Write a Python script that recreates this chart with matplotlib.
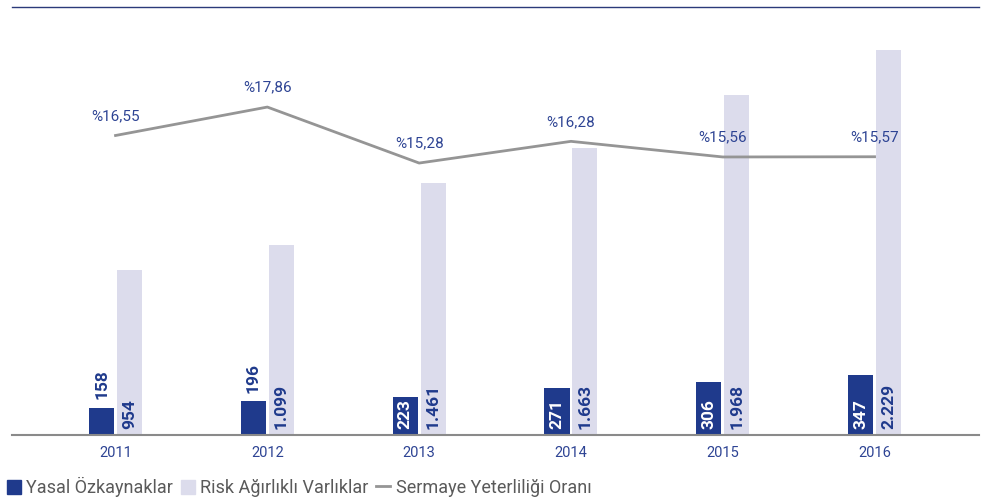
import matplotlib
matplotlib.use('Agg')
import matplotlib.pyplot as plt
from matplotlib.patches import Patch
from matplotlib.lines import Line2D
import numpy as np

plt.rcParams['font.family'] = ['Roboto', 'DejaVu Sans']

# data
years = ['2011', '2012', '2013', '2014', '2015', '2016']
ozkaynak = [158, 196, 223, 271, 306, 347]
risk_varlik = [954, 1099, 1461, 1663, 1968, 2229]
sermaye_orani = [16.55, 17.86, 15.28, 16.28, 15.56, 15.57]

DARK = '#1f3a8c'
LIGHT = '#dcdcec'
GREY_LINE = '#959595'
TXT_BLUE = '#2e4494'
TXT_GREY = '#5a5a5a'


def tr_num(v):
    # thousands with a dot, as in the original
    return '{:,}'.format(v).replace(',', '.')


def tr_pct(v):
    return '%' + '{:.2f}'.format(v).replace('.', ',')


fig = plt.figure(figsize=(9.89, 4.99), dpi=100)
ax = fig.add_axes([12 / 989, 1 - 435 / 499, 967 / 989, 428 / 499])

x = np.arange(len(years))
w = 0.165
off = 0.092

b1 = ax.bar(x - off, ozkaynak, width=w, color=DARK, zorder=2)
b2 = ax.bar(x + off, risk_varlik, width=w, color=LIGHT, zorder=2)

ax.set_xlim(-0.682, 5.688)
ax.set_ylim(0, 2481)

for xi, v in zip(x, ozkaynak):
    if v >= 200:
        ax.annotate(tr_num(v), (xi - off, 0), xytext=(0, 4), textcoords='offset points',
                    rotation=90, ha='center', va='bottom', color='white',
                    fontsize=12.5, fontweight='bold', zorder=4)
    else:
        ax.annotate(tr_num(v), (xi - off, v), xytext=(0, 6), textcoords='offset points',
                    rotation=90, ha='center', va='bottom', color=DARK,
                    fontsize=12.5, fontweight='bold', zorder=4)

for xi, v in zip(x, risk_varlik):
    ax.annotate(tr_num(v), (xi + off, 0), xytext=(0, 4.5), textcoords='offset points',
                rotation=90, ha='center', va='bottom', color=DARK,
                fontsize=12.5, fontweight='bold', zorder=4)

ax.set_xticks(x)
ax.set_xticklabels(years, fontsize=10.5, color=TXT_BLUE)
ax.tick_params(axis='x', length=0, pad=8)
ax.set_yticks([])

for s in ['left', 'right']:
    ax.spines[s].set_visible(False)
ax.spines['top'].set_color('#2b3a7a')
ax.spines['top'].set_linewidth(1.0)
ax.spines['bottom'].set_color('#8a8a8a')
ax.spines['bottom'].set_linewidth(1.5)

# ratio line on its own scale
ax2 = ax.twinx()
ax2.plot(x, sermaye_orani, color=GREY_LINE, lw=2.0, zorder=3)
ax2.set_ylim(2.75, 22.47)
ax2.set_yticks([])
for s in ax2.spines.values():
    s.set_visible(False)
for xi, v in zip(x, sermaye_orani):
    ax2.annotate(tr_pct(v), (xi, v), xytext=(0, 9), textcoords='offset points',
                 ha='center', va='bottom', color=TXT_BLUE, fontsize=11)

handles = [Patch(color=DARK), Patch(color=LIGHT),
           Line2D([], [], color=GREY_LINE, lw=2.0)]
labels = ['Yasal Özkaynaklar', 'Risk Ağırlıklı Varlıklar', 'Sermaye Yeterliliği Oranı']
leg = fig.legend(handles, labels, loc='center left', bbox_to_anchor=(0.003, 1 - 487 / 499),
                 ncol=3, frameon=False, fontsize=13, handlelength=0.8, handleheight=0.8,
                 handletextpad=0.3, columnspacing=0.4, borderaxespad=0, borderpad=0.2)
for t in leg.get_texts():
    t.set_color(TXT_GREY)

fig.savefig('out.png', dpi=100)
